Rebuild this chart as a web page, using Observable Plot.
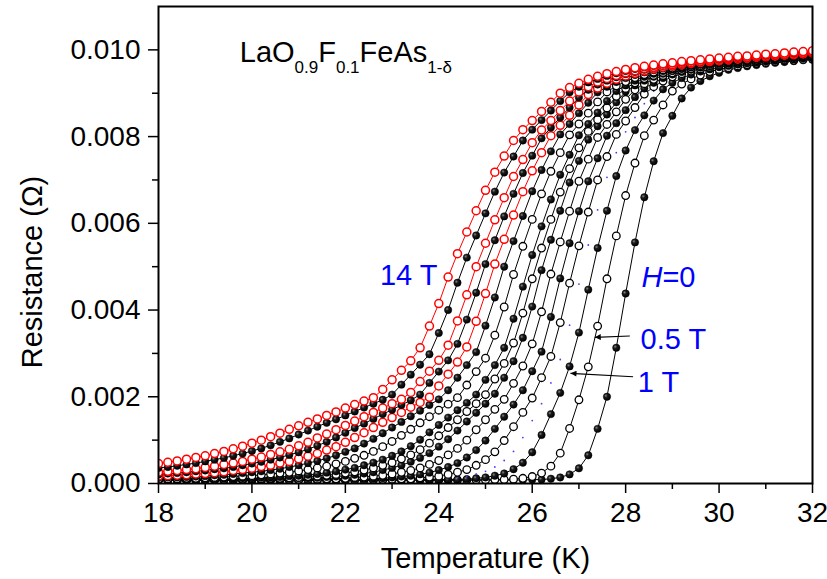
<!DOCTYPE html>
<html><head><meta charset="utf-8">
<script src="https://cdn.jsdelivr.net/npm/d3@7"></script>
<script src="https://cdn.jsdelivr.net/npm/@observablehq/plot@0.6"></script>
<style>
body{margin:0;background:#fff;}
#chart{width:827px;height:579px;}
</style></head><body><div id="chart"></div>
<script>
// Temperature grid (K)
const temperatures = [18.0,18.2,18.4,18.6,18.8,19.0,19.2,19.4,19.6,19.8,
  20.0,20.2,20.4,20.6,20.8,21.0,21.2,21.4,21.6,21.8,
  22.0,22.2,22.4,22.6,22.8,23.0,23.2,23.4,23.6,23.8,
  24.0,24.2,24.4,24.6,24.8,25.0,25.2,25.4,25.6,25.8,
  26.0,26.2,26.4,26.6,26.8,27.0,27.2,27.4,27.6,27.8,
  28.0,28.2,28.4,28.6,28.8,29.0,29.2,29.4,29.6,29.8,
  30.0,30.2,30.4,30.6,30.8,31.0,31.2,31.4,31.6,31.8,32.0];

// Resistance in units of 0.001 Ohm, one array per field
const R_0T = [0.08,0.08,0.08,0.08,0.08,0.08,0.08,0.08,0.08,0.08,
  0.08,0.08,0.08,0.08,0.08,0.08,0.08,0.08,0.08,0.08,
  0.08,0.08,0.08,0.08,0.08,0.08,0.08,0.08,0.08,0.08,
  0.08,0.08,0.08,0.08,0.08,0.08,0.08,0.08,0.08,0.08,
  0.09,0.09,0.11,0.14,0.21,0.35,0.65,1.26,2.00,3.13,
  4.38,5.56,6.60,7.43,8.08,8.48,8.88,9.13,9.28,9.39,
  9.47,9.54,9.58,9.62,9.65,9.68,9.70,9.72,9.74,9.76,9.77];
const R_05T = [0.08,0.08,0.08,0.08,0.08,0.08,0.08,0.08,0.08,0.08,
  0.08,0.08,0.08,0.08,0.08,0.08,0.08,0.08,0.08,0.08,
  0.08,0.08,0.08,0.08,0.08,0.08,0.08,0.08,0.08,0.08,
  0.08,0.08,0.08,0.08,0.08,0.08,0.09,0.09,0.10,0.12,
  0.16,0.24,0.40,0.70,1.27,1.93,2.69,3.63,4.72,5.71,
  6.64,7.39,8.02,8.38,8.73,9.05,9.21,9.33,9.42,9.50,
  9.55,9.59,9.63,9.66,9.69,9.71,9.73,9.75,9.76,9.78,9.79];
const R_1T = [0.08,0.08,0.08,0.08,0.08,0.08,0.08,0.08,0.08,0.08,
  0.08,0.08,0.08,0.08,0.08,0.08,0.08,0.08,0.08,0.08,
  0.08,0.08,0.08,0.08,0.08,0.08,0.08,0.08,0.08,0.08,
  0.09,0.09,0.09,0.10,0.12,0.14,0.18,0.23,0.33,0.48,
  0.72,1.12,1.60,2.09,2.70,3.48,4.47,5.43,6.29,7.09,
  7.68,8.15,8.49,8.83,9.09,9.24,9.35,9.43,9.50,9.55,
  9.60,9.63,9.66,9.69,9.71,9.73,9.75,9.76,9.78,9.80,9.81];
const R_15T = [0.08,0.08,0.08,0.08,0.08,0.08,0.08,0.08,0.08,0.08,
  0.08,0.08,0.08,0.08,0.08,0.08,0.08,0.08,0.08,0.08,
  0.08,0.08,0.08,0.08,0.08,0.08,0.08,0.09,0.09,0.10,
  0.11,0.12,0.14,0.17,0.22,0.28,0.38,0.53,0.74,1.06,
  1.45,1.84,2.32,2.86,3.65,4.60,5.50,6.31,7.06,7.63,
  8.11,8.44,8.76,9.05,9.20,9.32,9.41,9.48,9.53,9.58,
  9.62,9.65,9.68,9.70,9.72,9.74,9.76,9.78,9.79,9.81,9.82];
const R_2T = [0.08,0.08,0.08,0.08,0.08,0.08,0.08,0.08,0.08,0.08,
  0.08,0.08,0.08,0.08,0.08,0.08,0.08,0.08,0.08,0.08,
  0.08,0.08,0.08,0.09,0.09,0.10,0.11,0.11,0.13,0.15,
  0.17,0.21,0.26,0.32,0.42,0.55,0.73,0.99,1.31,1.64,
  1.97,2.44,2.93,3.71,4.62,5.48,6.26,7.00,7.54,8.05,
  8.36,8.67,8.98,9.15,9.28,9.38,9.45,9.51,9.56,9.60,
  9.64,9.66,9.69,9.71,9.73,9.75,9.77,9.78,9.80,9.82,9.83];
const R_3T = [0.08,0.08,0.08,0.08,0.08,0.08,0.08,0.08,0.08,0.08,
  0.08,0.08,0.08,0.08,0.08,0.08,0.08,0.09,0.09,0.09,
  0.09,0.10,0.10,0.11,0.12,0.14,0.16,0.18,0.21,0.25,
  0.31,0.38,0.47,0.60,0.77,0.99,1.26,1.54,1.82,2.15,
  2.59,3.04,3.84,4.73,5.54,6.28,6.97,7.50,8.02,8.31,
  8.61,8.91,9.11,9.24,9.35,9.43,9.49,9.54,9.59,9.62,
  9.65,9.68,9.70,9.72,9.74,9.76,9.78,9.80,9.81,9.83,9.84];
const R_4T = [0.08,0.08,0.08,0.08,0.08,0.08,0.08,0.08,0.08,0.08,
  0.08,0.08,0.09,0.09,0.09,0.09,0.10,0.10,0.11,0.11,
  0.12,0.14,0.15,0.17,0.19,0.22,0.26,0.30,0.36,0.44,
  0.53,0.66,0.81,1.00,1.24,1.47,1.71,1.94,2.31,2.71,
  3.22,3.96,4.83,5.57,6.28,6.97,7.48,7.98,8.28,8.57,
  8.86,9.08,9.22,9.32,9.41,9.47,9.53,9.57,9.61,9.64,
  9.67,9.70,9.72,9.74,9.76,9.77,9.79,9.81,9.82,9.84,9.85];
const R_5T = [0.08,0.08,0.08,0.08,0.08,0.09,0.09,0.09,0.09,0.09,
  0.09,0.10,0.10,0.10,0.11,0.12,0.12,0.13,0.15,0.16,
  0.18,0.20,0.23,0.26,0.31,0.36,0.42,0.50,0.59,0.70,
  0.85,1.02,1.22,1.43,1.63,1.84,2.07,2.44,2.82,3.36,
  4.08,4.92,5.62,6.29,6.94,7.44,7.93,8.24,8.51,8.79,
  9.04,9.18,9.29,9.38,9.45,9.51,9.56,9.60,9.63,9.66,
  9.69,9.71,9.73,9.75,9.77,9.79,9.80,9.82,9.83,9.85,9.87];
const R_6T = [0.08,0.08,0.09,0.09,0.09,0.09,0.09,0.09,0.10,0.10,
  0.11,0.11,0.12,0.12,0.13,0.14,0.16,0.17,0.19,0.21,
  0.24,0.27,0.31,0.36,0.42,0.48,0.57,0.66,0.78,0.93,
  1.10,1.29,1.47,1.66,1.84,2.05,2.41,2.77,3.24,3.93,
  4.72,5.43,6.09,6.72,7.26,7.74,8.12,8.39,8.66,8.93,
  9.11,9.24,9.34,9.41,9.48,9.53,9.58,9.61,9.64,9.67,
  9.70,9.72,9.74,9.76,9.78,9.79,9.81,9.83,9.84,9.86,9.87];
const R_7T = [0.09,0.09,0.09,0.09,0.10,0.10,0.10,0.11,0.11,0.12,
  0.12,0.13,0.14,0.15,0.17,0.18,0.20,0.22,0.25,0.28,
  0.32,0.36,0.42,0.48,0.55,0.64,0.74,0.86,1.01,1.18,
  1.35,1.52,1.69,1.86,2.05,2.39,2.73,3.13,3.80,4.54,
  5.27,5.93,6.55,7.12,7.58,8.03,8.29,8.55,8.82,9.05,
  9.18,9.29,9.38,9.45,9.51,9.55,9.59,9.63,9.66,9.68,
  9.71,9.73,9.75,9.77,9.79,9.80,9.82,9.84,9.85,9.87,9.88];
const R_8T = [0.10,0.11,0.11,0.12,0.12,0.13,0.14,0.15,0.16,0.17,
  0.18,0.20,0.22,0.24,0.26,0.29,0.32,0.36,0.40,0.45,
  0.51,0.58,0.65,0.74,0.85,0.97,1.11,1.25,1.40,1.54,
  1.69,1.83,1.98,2.27,2.58,2.89,3.42,4.07,4.82,5.47,
  6.09,6.68,7.20,7.63,8.04,8.29,8.54,8.80,9.03,9.17,
  9.27,9.36,9.43,9.49,9.54,9.58,9.62,9.65,9.68,9.70,
  9.72,9.74,9.76,9.78,9.80,9.82,9.83,9.85,9.87,9.88,9.90];
const R_9T = [0.13,0.14,0.14,0.15,0.16,0.17,0.19,0.20,0.22,0.24,
  0.26,0.28,0.31,0.34,0.38,0.42,0.47,0.52,0.58,0.65,
  0.73,0.81,0.92,1.03,1.16,1.29,1.42,1.55,1.68,1.81,
  1.94,2.15,2.44,2.73,3.03,3.64,4.29,5.00,5.59,6.17,
  6.74,7.23,7.66,8.05,8.29,8.54,8.78,9.02,9.15,9.26,
  9.35,9.42,9.48,9.53,9.57,9.61,9.64,9.67,9.70,9.72,
  9.74,9.76,9.78,9.80,9.82,9.83,9.85,9.87,9.88,9.90,9.91];
const R_10T = [0.17,0.18,0.19,0.20,0.22,0.23,0.25,0.27,0.30,0.32,
  0.35,0.39,0.42,0.47,0.51,0.57,0.63,0.69,0.77,0.85,
  0.95,1.06,1.17,1.29,1.41,1.52,1.64,1.76,1.87,1.99,
  2.25,2.52,2.80,3.15,3.74,4.38,5.06,5.63,6.19,6.73,
  7.21,7.63,8.02,8.26,8.49,8.73,8.97,9.12,9.23,9.32,
  9.40,9.46,9.51,9.56,9.60,9.63,9.66,9.69,9.71,9.73,
  9.75,9.77,9.79,9.81,9.83,9.84,9.86,9.88,9.89,9.91,9.93];
const R_11T = [0.21,0.23,0.24,0.26,0.28,0.30,0.33,0.35,0.38,0.42,
  0.46,0.50,0.55,0.60,0.66,0.72,0.79,0.87,0.96,1.06,
  1.17,1.28,1.38,1.49,1.60,1.70,1.81,1.92,2.05,2.32,
  2.58,2.84,3.22,3.78,4.40,5.06,5.61,6.16,6.68,7.16,
  7.56,7.96,8.21,8.44,8.67,8.90,9.08,9.20,9.29,9.37,
  9.44,9.49,9.54,9.58,9.62,9.65,9.68,9.70,9.72,9.75,
  9.77,9.79,9.80,9.82,9.84,9.86,9.87,9.89,9.91,9.92,9.94];
const R_12T = [0.26,0.28,0.30,0.32,0.34,0.37,0.40,0.44,0.47,0.51,
  0.56,0.61,0.67,0.73,0.79,0.87,0.95,1.05,1.14,1.24,
  1.34,1.44,1.54,1.64,1.74,1.84,1.94,2.10,2.35,2.59,
  2.84,3.19,3.75,4.35,5.00,5.54,6.08,6.59,7.08,7.47,
  7.86,8.15,8.37,8.60,8.82,9.03,9.15,9.26,9.34,9.41,
  9.47,9.52,9.57,9.60,9.64,9.66,9.69,9.71,9.74,9.76,
  9.78,9.80,9.82,9.83,9.85,9.87,9.88,9.90,9.92,9.93,9.95];
const R_13T = [0.36,0.38,0.41,0.44,0.47,0.51,0.55,0.59,0.64,0.69,
  0.75,0.81,0.88,0.96,1.04,1.13,1.22,1.31,1.40,1.48,
  1.57,1.66,1.75,1.84,1.93,2.05,2.28,2.51,2.74,2.98,
  3.47,4.00,4.63,5.21,5.72,6.23,6.73,7.17,7.54,7.91,
  8.16,8.38,8.60,8.82,9.02,9.15,9.25,9.33,9.40,9.46,
  9.51,9.56,9.60,9.63,9.66,9.69,9.71,9.73,9.76,9.78,
  9.79,9.81,9.83,9.85,9.87,9.88,9.90,9.92,9.93,9.95,9.97];
const R_14T = [0.46,0.49,0.52,0.56,0.60,0.64,0.69,0.74,0.80,0.86,
  0.93,1.00,1.08,1.16,1.25,1.33,1.41,1.49,1.57,1.65,
  1.74,1.82,1.90,1.98,2.17,2.39,2.61,2.83,3.13,3.63,
  4.15,4.76,5.30,5.80,6.29,6.76,7.18,7.55,7.91,8.16,
  8.37,8.58,8.79,9.00,9.13,9.23,9.32,9.39,9.45,9.50,
  9.55,9.59,9.62,9.65,9.68,9.70,9.73,9.75,9.77,9.79,
  9.81,9.83,9.85,9.86,9.88,9.90,9.91,9.93,9.95,9.96,9.98];

const fieldLabels = ["0 T","0.5 T","1 T","1.5 T","2 T","3 T","4 T","5 T","6 T","7 T","8 T","9 T","10 T","11 T","12 T","13 T","14 T"];
const resistanceSeries = [R_0T,R_05T,R_1T,R_15T,R_2T,R_3T,R_4T,R_5T,R_6T,R_7T,R_8T,R_9T,R_10T,R_11T,R_12T,R_13T,R_14T];
const symbolKind = ["filled","open","filled","tiny","open","filled","open","filled","open","filled","open","filled","red","filled","red","filled","red"];

// Axis ticks
const xMajor = [18,20,22,24,26,28,30,32];
const xMinor = [19,21,23,25,27,29,31];
const yMajor = [0,2,4,6,8,10];
const yMinor = [1,3,5,7,9];

// Annotations (data coordinates)
const formulaParts = [["LaO",false],["0.9",true],["F",false],["0.1",true],["FeAs",false],["1-δ",true]];
const formulaPos = [19.75, 9.70];
const noteText = ["14 T","0.5 T","1 T"];
const notePos = [[22.75,4.56],[28.33,3.10],[28.27,2.11]];
const h0Pos = [28.35,4.52];
const arrows = [[[28.10,3.39],[27.35,3.36]],[[28.17,2.45],[26.83,2.53]]];

const FONT = "'Liberation Sans', Arial, Helvetica, sans-serif";
const styles = {
  filled: {line: "#000", dot: {r: 3.7, fill: "url(#ballGrad)", stroke: "#000", strokeWidth: 0.5}},
  open: {line: "#000", dot: {r: 3.8, fill: "#fff", stroke: "#000", strokeWidth: 1.3}},
  red: {line: "#ff0000", dot: {r: 4.0, fill: "#fff", stroke: "#ff0000", strokeWidth: 1.5}},
  tiny: {line: null, dot: {r: 0.9, fill: "#4040ff", stroke: "none"}}
};

const marks = [];
resistanceSeries.forEach((vals, k) => {
  const data = temperatures.map((t, i) => ({T: t, R: vals[i], field: fieldLabels[k]}));
  const st = styles[symbolKind[k]];
  if (st.line) marks.push(Plot.line(data, {x: "T", y: "R", stroke: st.line, strokeWidth: 1, clip: true}));
  marks.push(Plot.dot(data, {x: "T", y: "R", ...st.dot, clip: true}));
});

marks.push(
  Plot.frame({stroke: "#000", strokeWidth: 2}),
  Plot.axisX(xMajor, {tickSize: 10, tickPadding: 9, fontSize: 28, strokeWidth: 1.5, label: null}),
  Plot.axisX(xMinor, {tickSize: 6, tickFormat: () => "", strokeWidth: 1.5, label: null}),
  Plot.axisY(yMajor, {tickSize: 10, tickPadding: 8, fontSize: 28, strokeWidth: 1.5, label: null,
    tickFormat: d => (d / 1000).toFixed(3)}),
  Plot.axisY(yMinor, {tickSize: 6, tickFormat: () => "", strokeWidth: 1.5, label: null}),
  Plot.text(["Temperature (K)"], {text: d => d, frameAnchor: "bottom", textAnchor: "middle", lineAnchor: "top", dy: 64, fontSize: 29}),
  Plot.text(["Resistance (Ω)"], {text: d => d, frameAnchor: "left", textAnchor: "middle", lineAnchor: "middle", rotate: -90, dx: -126, dy: 27, fontSize: 29})
);

const chart = Plot.plot({
  width: 827, height: 579,
  marginLeft: 158, marginRight: 15, marginTop: 6, marginBottom: 96,
  x: {domain: [18, 32]},
  y: {domain: [0, 11]},
  style: {fontFamily: FONT, fontSize: "28px", color: "#000", background: "#fff"},
  marks
});

const svg = d3.select(chart);
const defs = svg.insert("defs", ":first-child");
const grad = defs.append("radialGradient").attr("id", "ballGrad").attr("cx", "35%").attr("cy", "35%").attr("r", "65%");
grad.append("stop").attr("offset", "0%").attr("stop-color", "#8a8a8a");
grad.append("stop").attr("offset", "35%").attr("stop-color", "#1c1c1c");
grad.append("stop").attr("offset", "100%").attr("stop-color", "#000");
defs.append("marker").attr("id", "arrowHead").attr("viewBox", "0 0 10 10")
  .attr("refX", 10).attr("refY", 5).attr("markerWidth", 9).attr("markerHeight", 6)
  .attr("markerUnits", "userSpaceOnUse").attr("orient", "auto")
  .append("path").attr("d", "M0,0L10,5L0,10z").attr("fill", "#000");

const sx = v => chart.scale("x").apply(v);
const sy = v => chart.scale("y").apply(v);
const g = svg.append("g").attr("font-family", FONT).attr("text-anchor", "start");

// formula
const ft = g.append("text").attr("x", sx(formulaPos[0])).attr("y", sy(formulaPos[1])).attr("fill", "#000").attr("font-size", 29);
let shifted = false;
formulaParts.forEach(([s, sub]) => {
  const ts = ft.append("tspan").text(s).attr("font-size", sub ? 17 : 29);
  if (sub && !shifted) { ts.attr("dy", 11); shifted = true; }
  else if (!sub && shifted) { ts.attr("dy", -11); shifted = false; }
});

// blue labels
noteText.forEach((t, i) => {
  g.append("text").attr("x", sx(notePos[i][0])).attr("y", sy(notePos[i][1]))
    .attr("fill", "#0000ff").attr("font-size", 29).text(t);
});
const h0 = g.append("text").attr("x", sx(h0Pos[0])).attr("y", sy(h0Pos[1])).attr("fill", "#0000ff").attr("font-size", 29);
h0.append("tspan").attr("font-style", "italic").text("H");
h0.append("tspan").text("=0");

// arrows
arrows.forEach(([a, b]) => {
  g.append("line").attr("x1", sx(a[0])).attr("y1", sy(a[1])).attr("x2", sx(b[0])).attr("y2", sy(b[1]))
    .attr("stroke", "#000").attr("stroke-width", 1.2).attr("marker-end", "url(#arrowHead)");
});

document.getElementById("chart").appendChild(chart);
</script>
</body></html>
